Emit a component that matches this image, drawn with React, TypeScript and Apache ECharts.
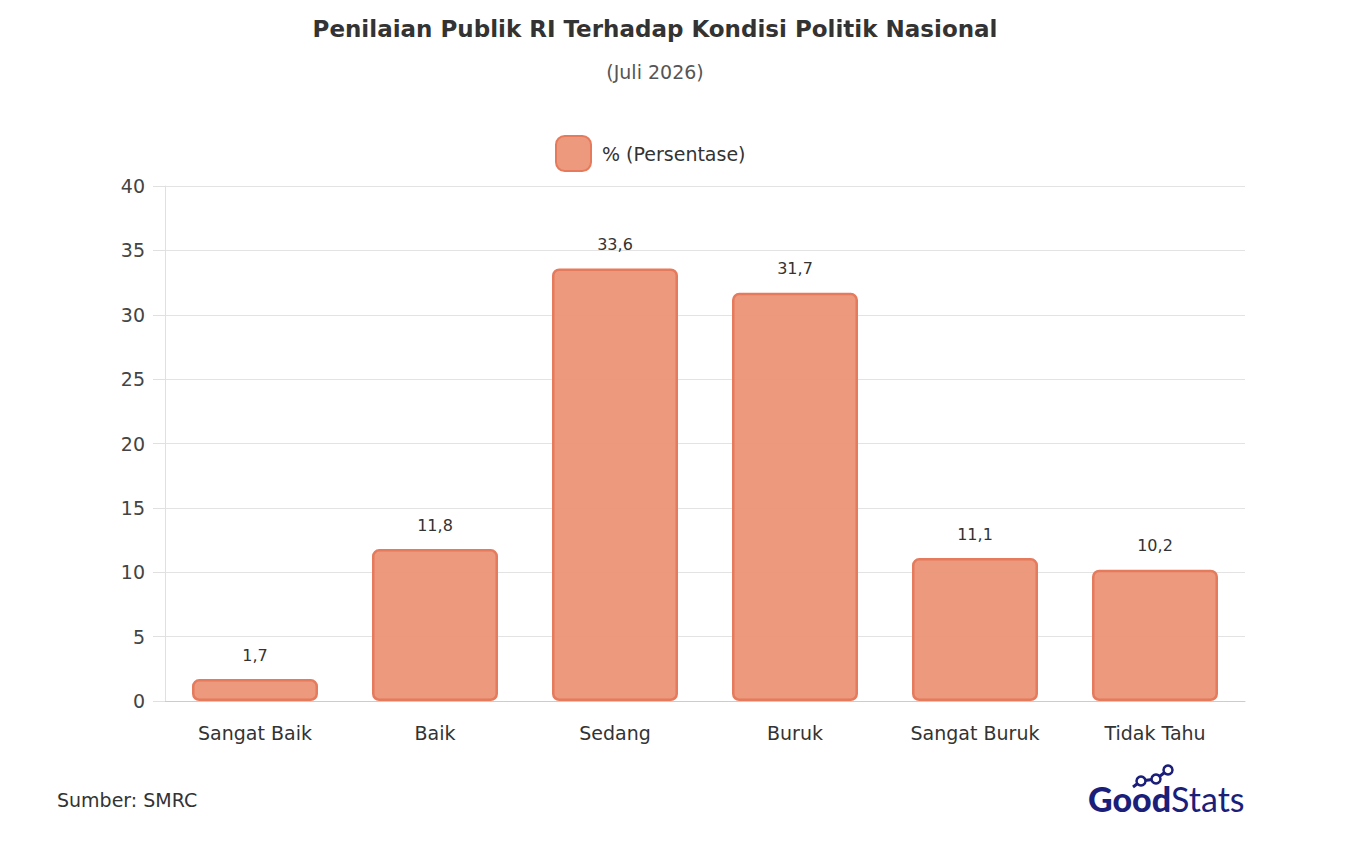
import React, { useEffect, useRef } from "react";
import * as echarts from "echarts";

const categories = ["Sangat Baik", "Baik", "Sedang", "Buruk", "Sangat Buruk", "Tidak Tahu"];
const values = [1.7, 11.8, 33.6, 31.7, 11.1, 10.2];
const seriesName = "% (Persentase)";
const titleText = "Penilaian Publik RI Terhadap Kondisi Politik Nasional";
const subtitleText = "(Juli 2026)";
const sourceText = "Sumber: SMRC";

export default function App() {
  const ref = useRef<HTMLDivElement>(null);
  useEffect(() => {
    document.body.style.margin = "0";
    const chart = echarts.init(ref.current!, null, { renderer: "svg" });
    const font = "'DejaVu Sans', sans-serif";
    const navy = "#1b1f7a";
    chart.setOption({
      animation: false,
      backgroundColor: "#ffffff",
      title: {
        text: titleText,
        subtext: subtitleText,
        left: 650,
        textAlign: "center",
        top: 12,
        itemGap: 22,
        textStyle: { fontFamily: font, fontSize: 23, fontWeight: "bold", color: "#333333" },
        subtextStyle: { fontFamily: font, fontSize: 19, color: "#555555" },
      },
      legend: {
        top: 130,
        left: 550,
        itemWidth: 35,
        itemHeight: 35,
        itemGap: 10,
        data: [{ name: seriesName, icon: "roundRect" }],
        textStyle: { fontFamily: font, fontSize: 19, color: "#333333", padding: [0, 0, 0, 6] },
      },
      grid: { left: 165, right: 107, top: 186, bottom: 143 },
      xAxis: {
        type: "category",
        data: categories,
        axisLine: { lineStyle: { color: "#cccccc" } },
        axisTick: { show: false },
        axisLabel: { fontFamily: font, fontSize: 19, color: "#333333", margin: 22 },
      },
      yAxis: {
        type: "value",
        min: 0,
        max: 40,
        interval: 5,
        axisLine: { show: true, lineStyle: { color: "#e0e0e0" } },
        axisTick: { show: true, length: 12, lineStyle: { color: "#e0e0e0" } },
        splitLine: { lineStyle: { color: "#e3e3e3" } },
        axisLabel: { fontFamily: font, fontSize: 19, color: "#444444", margin: 20 },
      },
      series: [
        {
          name: seriesName,
          type: "bar",
          data: values,
          barWidth: "70%",
          itemStyle: {
            color: "rgba(235,148,118,0.95)",
            borderColor: "#e57a5c",
            borderWidth: 2.5,
            borderRadius: 6,
          },
          label: {
            show: true,
            position: "top",
            distance: 16,
            fontFamily: font,
            fontSize: 16,
            color: "#333333",
            formatter: (p: any) => String(p.value).replace(".", ","),
          },
        },
      ],
      graphic: [
        {
          type: "text",
          left: 57,
          top: 790,
          style: { text: sourceText, fontFamily: font, fontSize: 19, fill: "#333333" },
        },
        { type: "polyline", shape: { points: [[1133, 787], [1141, 781], [1156, 779], [1168, 770]] }, style: { stroke: navy, lineWidth: 3, fill: "none" } },
        { type: "circle", shape: { cx: 1141, cy: 781, r: 4.5 }, style: { fill: "#fff", stroke: navy, lineWidth: 2.5 } },
        { type: "circle", shape: { cx: 1156, cy: 779, r: 4.5 }, style: { fill: "#fff", stroke: navy, lineWidth: 2.5 } },
        { type: "circle", shape: { cx: 1168, cy: 770, r: 4.5 }, style: { fill: "#fff", stroke: navy, lineWidth: 2.5 } },
        {
          type: "text",
          x: 1088,
          y: 798,
          style: {
            text: "{g|Good}{s|Stats}",
            verticalAlign: "middle",
            fill: navy,
            rich: {
              g: { fontFamily: "Lato, sans-serif", fontWeight: 900, fontSize: 34, fill: navy, color: navy },
              s: { fontFamily: "Lato, sans-serif", fontWeight: 400, fontSize: 34, fill: navy, color: navy },
            },
          },
        },
      ],
    });
    return () => chart.dispose();
  }, []);
  return <div ref={ref} style={{ width: 1352, height: 844 }} />;
}
